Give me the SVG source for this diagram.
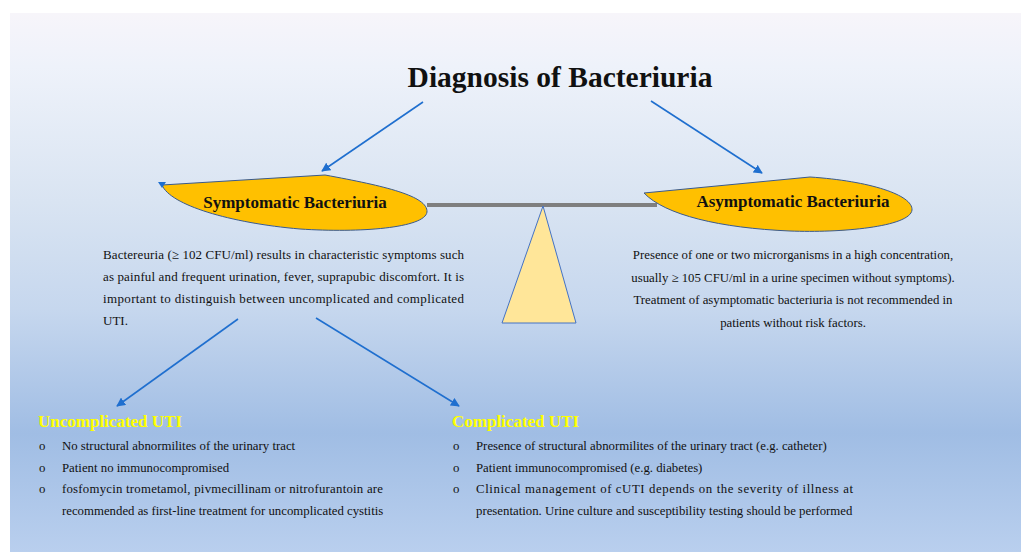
<svg xmlns="http://www.w3.org/2000/svg" width="1021" height="552" viewBox="0 0 1021 552">
<defs>
<linearGradient id="bg" x1="0" y1="0" x2="0" y2="1">
<stop offset="0" stop-color="#f7f5fa"/>
<stop offset="0.1" stop-color="#eef2fa"/>
<stop offset="0.35" stop-color="#d9e4f2"/>
<stop offset="0.55" stop-color="#c6d7ee"/>
<stop offset="0.78" stop-color="#a0bde4"/>
<stop offset="1" stop-color="#b9cfee"/>
</linearGradient>
<marker id="ah2" viewBox="0 0 10 10" refX="9" refY="5" markerWidth="9" markerHeight="9" orient="auto" markerUnits="userSpaceOnUse">
<path d="M0,0 L10,5 L0,10 Z" fill="#1f6fcf"/>
</marker>
</defs>
<style>
.t{font-family:"Liberation Serif","Times New Roman",serif;fill:#111}
.b{font-weight:bold}
.p{font-size:13px}
.r{font-size:12.8px}
.l{font-size:12.8px}
.h{font-size:17px;font-weight:bold;fill:#ffff00}
.conn{stroke:#1f6fcf;stroke-width:1.6;fill:none;marker-end:url(#ah2)}
.leaf{fill:#ffc000;stroke:#3a5a8c;stroke-width:1}
</style>
<rect x="10" y="13" width="1011" height="539" fill="url(#bg)"/>
<g id="title"><text class="t b" x="560" y="87" font-size="29.5" text-anchor="middle">Diagnosis of Bacteriuria</text></g>
<g id="connectors">
<line class="conn" x1="423" y1="102" x2="322" y2="171"/>
<line class="conn" x1="651" y1="101" x2="762" y2="173"/>
<line class="conn" x1="238" y1="319" x2="117" y2="406"/>
<line class="conn" x1="316" y1="318" x2="459" y2="406"/>
</g>
<g id="balance">
<line x1="427" y1="205" x2="657" y2="205" stroke="#7f7f7f" stroke-width="4"/>
<polygon points="543,206 502,323 576,323" fill="#ffe699" stroke="#4472c4" stroke-width="1"/>
</g>
<g id="symptomatic">
<path class="leaf" d="M162,185 L325,175 C385,186 428,196 427,212 C425,228 360,233 300,229 C230,223 170,205 162,185 Z"/>
<path d="M158,182 L166,182 L162,188 Z" fill="#1f6fcf"/>
<text class="t b" x="295" y="208" font-size="17" text-anchor="middle">Symptomatic Bacteriuria</text>
</g>
<g id="asymptomatic">
<path class="leaf" d="M644,193 L810,177 C870,181 913,195 912,210 C910,227 840,233 790,231 C720,228 665,215 644,193 Z"/>
<text class="t b" x="793" y="207" font-size="17" text-anchor="middle">Asymptomatic Bacteriuria</text>
</g>
<g id="symptomatic-text">
<text class="t p" x="103" y="259" textLength="361" lengthAdjust="spacing">Bactereuria (≥ 102 CFU/ml) results in characteristic symptoms such</text>
<text class="t p" x="103" y="281" textLength="361" lengthAdjust="spacing">as painful and frequent urination, fever, suprapubic discomfort. It is</text>
<text class="t p" x="103" y="303" textLength="361" lengthAdjust="spacing">important to distinguish between uncomplicated and complicated</text>
<text class="t p" x="103" y="325">UTI.</text>
</g>
<g id="asymptomatic-text">
<text class="t r" x="793" y="259" text-anchor="middle">Presence of one or two microrganisms in a high concentration,</text>
<text class="t r" x="793" y="282" text-anchor="middle">usually ≥ 105 CFU/ml in a urine specimen without symptoms).</text>
<text class="t r" x="793" y="304" text-anchor="middle">Treatment of asymptomatic bacteriuria is not recommended in</text>
<text class="t r" x="793" y="327" text-anchor="middle">patients without risk factors.</text>
</g>
<g id="uncomplicated">
<text class="t h" x="38" y="427">Uncomplicated UTI</text>
<text class="t l" x="39" y="450">o</text>
<text class="t l" x="62" y="450">No structural abnormilites of the urinary tract</text>
<text class="t l" x="39" y="472">o</text>
<text class="t l" x="62" y="472">Patient no immunocompromised</text>
<text class="t l" x="39" y="493">o</text>
<text class="t l" x="62" y="493" textLength="321" lengthAdjust="spacing">fosfomycin trometamol, pivmecillinam or nitrofurantoin are</text>
<text class="t l" x="62" y="515">recommended as first-line treatment for uncomplicated cystitis</text>
</g>
<g id="complicated">
<text class="t h" x="452" y="427">Complicated UTI</text>
<text class="t l" x="453" y="450">o</text>
<text class="t l" x="476" y="450">Presence of structural abnormilites of the urinary tract (e.g. catheter)</text>
<text class="t l" x="453" y="472">o</text>
<text class="t l" x="476" y="472">Patient immunocompromised (e.g. diabetes)</text>
<text class="t l" x="453" y="493">o</text>
<text class="t l" x="476" y="493" textLength="377" lengthAdjust="spacing">Clinical management of cUTI depends on the severity of illness at</text>
<text class="t l" x="476" y="515">presentation. Urine culture and susceptibility testing should be performed</text>
</g>
</svg>
